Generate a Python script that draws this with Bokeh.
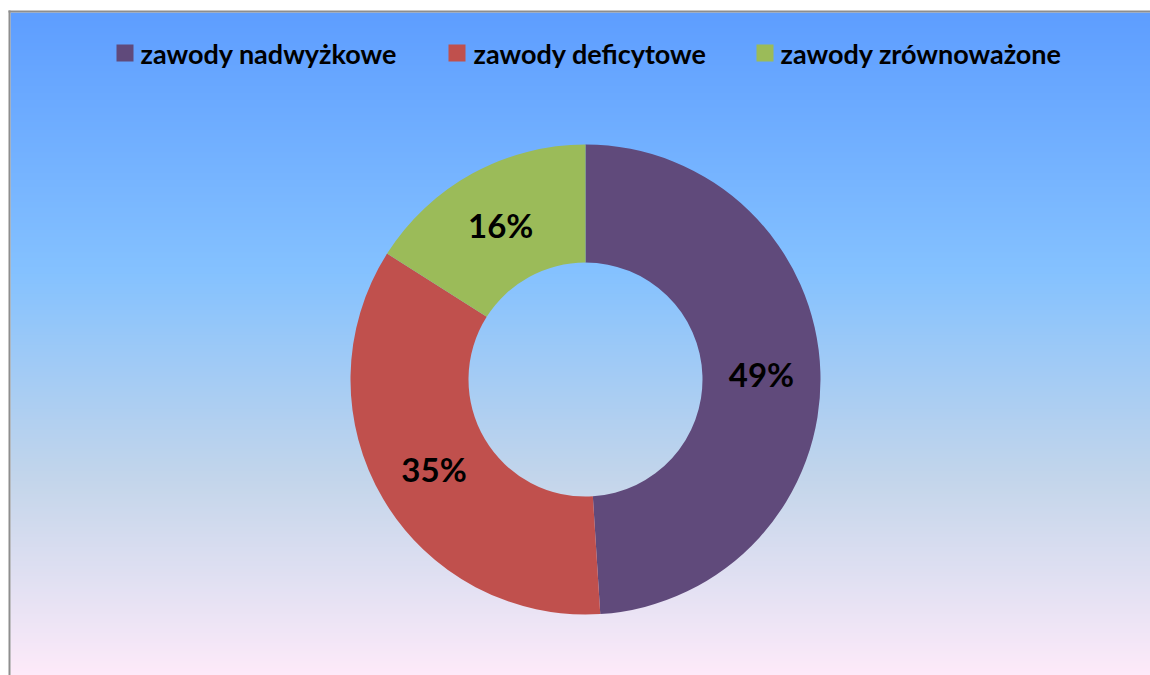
import numpy as np
from bokeh.plotting import figure
from bokeh.models import Range1d, ColumnDataSource
from bokeh.core.properties import value
from bokeh.embed import file_html
from bokeh.resources import INLINE

# ---- data ----
categories = ["zawody nadwyżkowe", "zawody deficytowe", "zawody zrównoważone"]
shares = [49, 35, 16]
colors = ["#604A7B", "#C0504D", "#9BBB59"]

# ---- layout (pixels) ----
W, H = 1150, 675
FONT = "Lato"

p = figure(width=W, height=H, output_backend="svg", toolbar_location=None,
           x_range=Range1d(0, W), y_range=Range1d(0, H), min_border=0,
           background_fill_color="white", border_fill_color="white")
p.axis.visible = False
p.grid.visible = False
p.outline_line_color = None

def sy(screen_y):
    # convert page y coordinate to data y
    return H - screen_y

# gradient background (Office "Daybreak" style)
stops_t = [0.0, 0.39, 0.70, 1.0]
stops_c = [(0x5E, 0x9E, 0xFF), (0x85, 0xC2, 0xFF), (0xC4, 0xD6, 0xEB), (0xFF, 0xEB, 0xFA)]
N = 400
t = 1.0 - np.linspace(0, 1, N)  # row 0 is bottom
img = np.empty((N, 1), dtype=np.uint32)
view = img.view(dtype=np.uint8).reshape((N, 1, 4))
for k in range(3):
    view[:, 0, k] = np.interp(t, stops_t, [c[k] for c in stops_c]).astype(np.uint8)
view[:, 0, 3] = 255
top_y, bot_y = sy(12), sy(680)
p.image_rgba(image=[img], x=10, y=bot_y, dw=W, dh=top_y - bot_y)

# gray frame (left and top)
p.quad(left=8, right=10, top=sy(10), bottom=-20, fill_color="#8E8E8E", line_color=None)
p.quad(left=8, right=W, top=sy(10), bottom=sy(12), fill_color="#8E8E8E", line_color=None)

# donut
cx, cy = 585, sy(379)
r_out, r_in = 235, 117
total = float(sum(shares))
frac = np.array(shares) / total
cum = np.concatenate([[0], np.cumsum(frac)])
start = np.pi / 2 - 2 * np.pi * cum[:-1]
end = np.pi / 2 - 2 * np.pi * cum[1:]
src = ColumnDataSource(dict(start=start, end=end, color=colors))
p.annular_wedge(x=cx, y=cy, inner_radius=r_in, outer_radius=r_out,
                start_angle="start", end_angle="end", direction="clock",
                fill_color="color", line_color=None, source=src)

mid = (start + end) / 2
r_lab = (r_out + r_in) / 2
lab_src = ColumnDataSource(dict(x=cx + r_lab * np.cos(mid), y=cy + r_lab * np.sin(mid),
                                txt=[f"{s}%" for s in shares]))
p.text(x="x", y="y", text="txt", source=lab_src, text_align="center",
       text_baseline="middle", text_font=value(FONT), text_font_style="bold",
       text_font_size="33px", text_color="black")

# legend
sq_x = [124.5, 456.5, 764.5]
tx_x = [140, 473, 780]
leg_y = sy(52.5)
p.rect(x=sq_x, y=[leg_y] * 3, width=17, height=17, fill_color=colors, line_color=None)
p.text(x=tx_x, y=[leg_y] * 3, text=categories, text_align="left", text_baseline="middle",
       text_font=value(FONT), text_font_style="bold", text_font_size="27px",
       text_color="black")

open("out.html", "w").write(file_html(p, INLINE))
